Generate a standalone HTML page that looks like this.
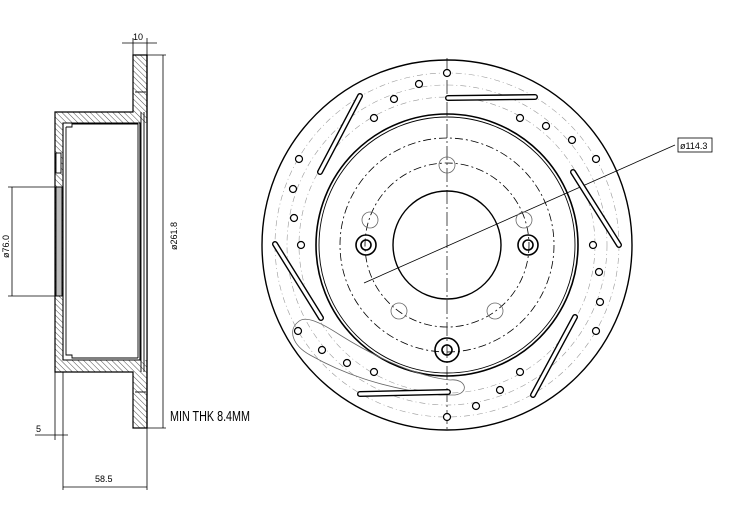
<!DOCTYPE html>
<html><head><meta charset="utf-8"><style>body{margin:0;background:#fff}svg{display:block}text{font-family:"Liberation Sans Narrow","Liberation Sans",sans-serif;fill:#000}</style></head><body>
<svg width="739" height="513" viewBox="0 0 739 513" xmlns="http://www.w3.org/2000/svg">
<defs><pattern id="h" width="4" height="4" patternUnits="userSpaceOnUse" patternTransform="rotate(-45)"><line x1="0" y1="0" x2="0" y2="4" stroke="#000" stroke-width="0.7"/></pattern></defs>
<g stroke="#000" stroke-width="1.2" fill="url(#h)">
<path d="M133,55 H147 V428 H133 V372 H55 V112 H133 Z"/>
</g>
<rect x="139" y="123" width="8" height="237" fill="#fff"/>
<g stroke="#000" stroke-width="1.1" fill="#fff">
<path d="M63,123 H140 V360 H63 Z"/>
</g>
<g stroke="#000" stroke-width="0.9" fill="none">
<line x1="147" y1="55" x2="147" y2="428" stroke-width="1.2"/>
<path d="M66,127 H72 V124 H138 M66,127 V355 H72 V358 H138"/>
<line x1="141" y1="112" x2="141" y2="372"/><line x1="144" y1="112" x2="144" y2="372"/>
<line x1="138" y1="124" x2="138" y2="358"/>
<rect x="56" y="153" width="5" height="20" fill="#fff"/>
<rect x="56" y="187" width="6" height="109" fill="#bbb"/>
<line x1="135" y1="92" x2="146" y2="92"/><line x1="135" y1="392" x2="146" y2="392"/>
</g>
<g stroke="#000" stroke-width="0.8" fill="none">
<line x1="122" y1="43" x2="157" y2="43"/><line x1="133" y1="38" x2="133" y2="55"/><line x1="147" y1="38" x2="147" y2="55"/>
<line x1="147" y1="55" x2="166" y2="55"/><line x1="147" y1="428" x2="166" y2="428"/><line x1="163" y1="55" x2="163" y2="428"/>
<line x1="12" y1="187" x2="12" y2="296"/><line x1="8" y1="187" x2="60" y2="187"/><line x1="8" y1="296" x2="60" y2="296"/>
<line x1="35" y1="435" x2="68" y2="435"/><line x1="55" y1="372" x2="55" y2="440"/><line x1="63" y1="372" x2="63" y2="490"/>
<line x1="63" y1="487" x2="147" y2="487"/><line x1="147" y1="428" x2="147" y2="490"/>
</g>
<text x="133" y="40" font-size="9">10</text>
<text transform="translate(177,250) rotate(-90)" font-size="9">ø261.8</text>
<text transform="translate(9,258) rotate(-90)" font-size="9">ø76.0</text>
<text x="36" y="432" font-size="9">5</text>
<text x="95" y="482" font-size="9">58.5</text>
<text x="170" y="421" font-size="15" textLength="80" lengthAdjust="spacingAndGlyphs">MIN THK 8.4MM</text>
<g fill="none" stroke="#999" stroke-width="0.6" stroke-dasharray="6,3,1,3">
<circle cx="447" cy="245" r="148"/><circle cx="447" cy="245" r="160"/><circle cx="447" cy="245" r="172"/>
</g>
<g fill="none" stroke="#000">
<circle cx="447" cy="245" r="185" stroke-width="1.4"/>
<circle cx="447" cy="245" r="131" stroke-width="1.6"/>
<circle cx="447" cy="245" r="128" stroke-width="0.9"/>
<circle cx="447" cy="245" r="54" stroke-width="1.4"/>
<circle cx="447" cy="245" r="107" stroke-width="0.8" stroke-dasharray="8,3,2,3"/>
<circle cx="447" cy="245" r="82" stroke-width="0.8" stroke-dasharray="8,3,2,3"/>
<line x1="447" y1="58" x2="447" y2="432" stroke-width="0.7" stroke-dasharray="14,3,2,3"/>
<line x1="364" y1="283" x2="675" y2="145" stroke-width="0.8"/>
</g>
<g fill="none" stroke="#666" stroke-width="0.8">
<circle cx="447" cy="165" r="8"/><circle cx="370" cy="220" r="8"/><circle cx="524" cy="220" r="8"/><circle cx="399" cy="311" r="8"/><circle cx="495" cy="311" r="8"/>
<path d="M298,322 C288,330 292,345 310,355 C340,372 380,388 440,395 L455,395 C470,393 466,378 450,380 C420,377 380,360 340,335 C320,322 305,315 298,322 Z"/>
</g>
<g fill="none" stroke="#000" stroke-width="1.6">
<circle cx="366" cy="245" r="10"/><circle cx="366" cy="245" r="5"/>
<circle cx="528" cy="245" r="10"/><circle cx="528" cy="245" r="5"/>
<circle cx="447" cy="350" r="12"/><circle cx="447" cy="350" r="5"/>
</g>
<g fill="none" stroke="#000" stroke-width="6" stroke-linecap="round">
<line x1="448" y1="98" x2="535" y2="97"/><line x1="360" y1="96" x2="320" y2="172"/><line x1="573" y1="172" x2="619" y2="245"/>
<line x1="275" y1="244" x2="321" y2="318"/><line x1="360" y1="394" x2="448" y2="392"/><line x1="575" y1="317" x2="533" y2="395"/>
</g>
<g fill="none" stroke="#fff" stroke-width="3.2" stroke-linecap="round">
<line x1="448" y1="98" x2="535" y2="97"/><line x1="360" y1="96" x2="320" y2="172"/><line x1="573" y1="172" x2="619" y2="245"/>
<line x1="275" y1="244" x2="321" y2="318"/><line x1="360" y1="394" x2="448" y2="392"/><line x1="575" y1="317" x2="533" y2="395"/>
</g>
<g fill="#fff" stroke="#000" stroke-width="1.2">
<circle cx="447" cy="73" r="3.5"/><circle cx="419" cy="84" r="3.5"/><circle cx="394" cy="99" r="3.5"/><circle cx="374" cy="118" r="3.5"/>
<circle cx="299" cy="159" r="3.5"/><circle cx="293" cy="189" r="3.5"/><circle cx="294" cy="218" r="3.5"/><circle cx="301" cy="245" r="3.5"/>
<circle cx="298" cy="331" r="3.5"/><circle cx="322" cy="350" r="3.5"/><circle cx="347" cy="363" r="3.5"/><circle cx="374" cy="372" r="3.5"/>
<circle cx="447" cy="417" r="3.5"/><circle cx="476" cy="406" r="3.5"/><circle cx="500" cy="390" r="3.5"/><circle cx="520" cy="372" r="3.5"/>
<circle cx="596" cy="331" r="3.5"/><circle cx="600" cy="302" r="3.5"/><circle cx="599" cy="272" r="3.5"/><circle cx="593" cy="245" r="3.5"/>
<circle cx="596" cy="159" r="3.5"/><circle cx="572" cy="140" r="3.5"/><circle cx="546" cy="126" r="3.5"/><circle cx="520" cy="118" r="3.5"/>
</g>
<rect x="678" y="138" width="34" height="14" fill="#fff" stroke="#000" stroke-width="0.8"/>
<text x="680" y="149" font-size="9">ø114.3</text>
</svg>
</body></html>
